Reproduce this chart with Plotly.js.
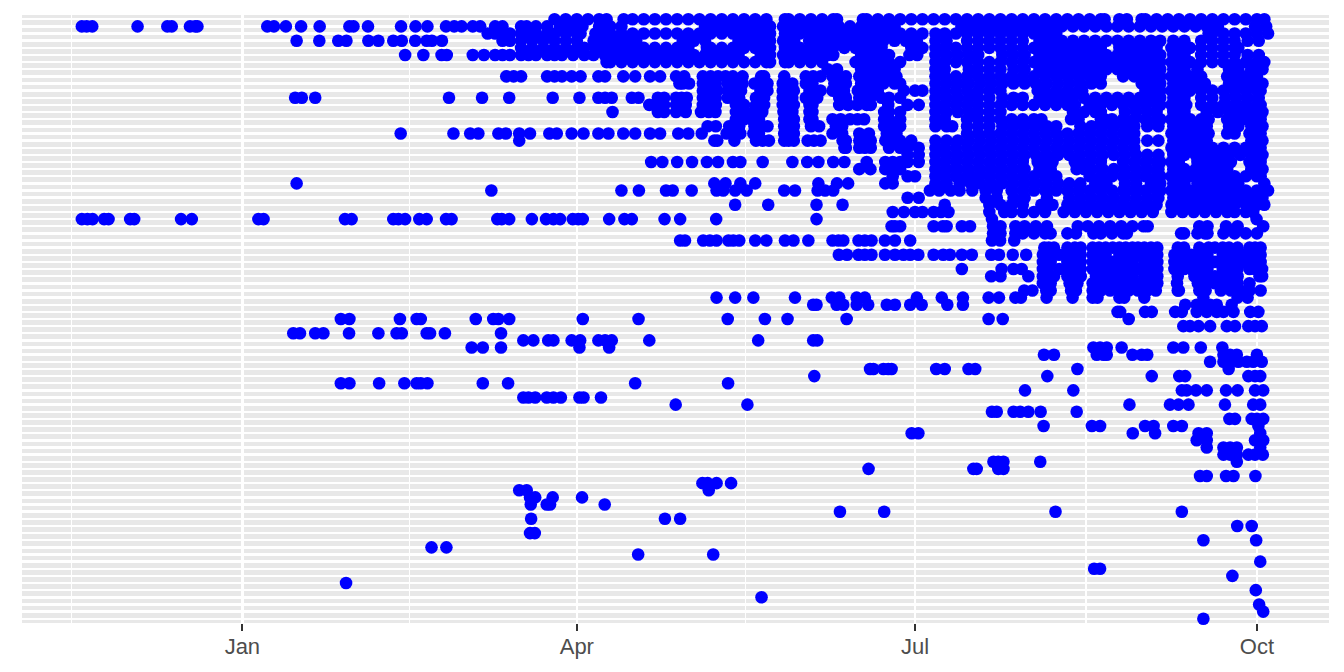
<!DOCTYPE html>
<html><head><meta charset="utf-8">
<script src="https://cdn.plot.ly/plotly-3.0.1.min.js"></script>
<style>html,body{margin:0;padding:0;background:#fff}#c{width:1344px;height:672px}</style>
</head><body><div id="c"></div>
<script>
// days since 1 January, one list per row (top row first)
const rowDays = [
/*0*/[84,87,90,93,96,98,102.6,105,108,111,114,117,120,123,126,129,132,135,138,141,146,147,150,153,156,159,160,167,168,171,174,177,180,183,186,189,192,195,198,201,204,207,210,213,216,219,222,225,228,231,232,236,238,242,243,246,249,252,255,258,261,264,267,270,273,275],
/*1*/[-43.2,-41.9,-40.4,-28.2,-20.2,-19,-14.1,-12.7,-12.1,6.7,8.5,11.7,15.8,20.8,28.8,29.9,33.8,42.7,46.6,49.8,54.8,57,59,62,64,68,70,75,76.5,79,82,85.5,88.5,91.5,96,97.5,99,102,124.5,127.5,130.5,133.5,136.5,139.5,142,145.5,148.5,151.5,154.5,157.5,160.5,163.5,166.5,169.5,172.5,175.5,193.5,196.5,199.5,202.5,205.5,208.5,211.5,214.5,217.5,220.5,223.5,226.5,229.5,232.5,235.5,238.5,241.5,244.5,247.5,250.5,253.5,256.5,259.5,262.5,272.5,275.5],
/*2*/[66,68,70,72,75,77,79,82,84,87,90,91,95,96,99,102,105,108,111,114,117,120,123,126,129,132,135,138,141,142,146,147,150,153,156,159,162,165,168,171,174,177,180,183,186.5,189,192,195,198,201,204,207,210,213,216,219,260,261,264,267,270,273,276],
/*3*/[14.6,20.7,25.8,28,33.9,36.6,40.6,42.9,46.5,49.6,51,53.7,70,72,75,78,81,84,87,90,94.5,97.5,100.5,103.5,106,118.5,121.5,124.5,133.5,136.5,139.5,142,145.5,148.5,152.5,154.5,157.5,160.5,163.5,166.5,169.5,172.5,175.5,178.5,181.5,186.5,189.5,195,198,201,204,207,210,214.5,217.5,220.5,223.5,226.5,229.5,232.5,235.5,238.5,241.5,244.5,247,250.5,253.5,258,261,264,267,270.5,273.5],
/*4*/[75,78,81,84,87,90,92,95,96,99,102,105,108,111,114,117,120,125,126,129,132,135,138,141,142,146,147,150,153,156,159,162,165,168,171,172,180,183,186.5,189,192,195,198,201,204,207,210,213,216,219,222,225,228,231,236,237,240,243,246,250,252,255,258,261,264,267,268],
/*5*/[43.8,48.7,53.6,55,62,65,68,70,72,75,77,79,82,84,86,89,92,94.5,97.5,100.5,103.5,106.5,109.5,112.5,115.5,118.5,121.5,124.5,127.5,130.5,133.5,139.5,142,145.5,148.5,151.5,154.5,157.5,159,166.5,169.5,172.5,174,179.5,181.6,186.5,189.5,192.5,195.5,198,204.5,207.5,210.5,214.5,217.5,220.5,223.5,226.5,229.5,232.5,235.5,238.5,241.5,244.5,247,250.5,253.5,258,261,264,267,270.5,273.5],
/*6*/[98,99,102,105,108,111,114,117,120,123,126,129,132,135,138,141,142,146,147,150,153,156,165,168,171,174,177,186.5,189,192,195,198,201,204,207,210,213,216,219,222,225,228,231,234,237,240,243,246,247,250,252,255,258,261,264,267,270,273,275],
/*7*/[157.5,160,166.5,169.5,172.5,175.5,186.5,189,195.5,198,201,204,207.5,210.5,214.5,217.5,220.5,223.5,226.5,229.5,232.5,235.5,238.5,241.5,244.5,247,250.5,253.5,257,265.5,268,271.5,274.5],
/*8*/[71,73,75,82,84,86,88.6,91,95.8,97.6,102.5,105.7,109.7,112.4,116.7,118.9,123.9,126,128,130,132,134.6,139.6,140.4,145.8,151.6,153.6,155.6,158.8,160.5,162.4,166,168,171,174,176,186.5,189,192,195,198,201,204,207,210,213,216,219,222,225,228,231,237,240,243,246,247,250,252,255,258,265,267,270,273],
/*9*/[117.6,118.5,120.2,123.9,125.6,127.4,130.6,132.5,134.6,137.8,139.5,141.3,145.4,146.5,148,151.6,153.4,159.3,161,162.4,166.5,169.5,172.5,175.5,177,186.5,189.5,192.5,195.5,198.5,201.5,204.5,207.5,210.5,213.5,216.5,219.5,222.5,225.5,228.5,231,242,244.5,247,250.5,253.5,256.5,259,265.5,268.5,271.5,274.5],
/*10*/[123.9,125.7,127.8,130.6,132.5,134.2,139.4,141.3,145.4,146.8,148.4,152.6,154,155.6,158.8,160.4,161.9,165.6,168,171,178,181,183,186.5,189,192,195,198,201,204,214,216,219,222,225,226,243,246,247,250,252,255,258,261,264,267,270,273,274],
/*11*/[14.2,16,19.6,55.6,64.5,71.8,83.5,90.7,95.8,97.6,99.4,104.8,106.6,111.8,113.5,116.7,118.2,119.6,123.9,125.6,127.4,130.6,132,133.7,138.2,140.4,145.4,146.8,148,151.6,153,154.7,160.6,162.4,166,169,172,174,177,186.5,189.5,192.5,195.5,198,201,204.5,207.5,210,214.5,217.5,220.5,223.5,226.5,229.5,232.5,235.5,238.5,241.5,244.5,247,250.5,253.5,258,261,264.5,267.5,270.5,273.5],
/*12*/[109.5,111.5,113.5,116.7,119.3,123.9,125.6,127.4,132.8,135,138.2,140.4,145.4,146.8,148.4,152.6,153.4,160.6,163,165.5,168,169.1,173.8,179,182,186.5,189,192,195,198,201,204,207,210,213,216,219,222,224,228,231,234,237,240,243,246,247,250,252,254,258,261,264,267,270,273,274],
/*13*/[99.6,111.8,113.5,116.7,119.3,123.4,125.5,127.3,132.8,135,137.5,139.9,145.6,148,152.6,153.4,172.7,174,177,186.5,189.5,192.5,195.5,198,201,204,223.5,226.5,229.5,231,237.5,240.5,243.5,246,250.5,253.5,259.5,262.5,265.5,268.5,271.5,274.5],
/*14*/[132.8,135,137,139,145.8,147,148.4,152.6,153.4,158.8,161,163.5,165.5,167.3,172.7,174,177,186.5,189,195,198,201,204,207,210,213,215,223,225,231,232,234,237,240,243,246,247,250,252,255,258,260,265,267,270,273,274],
/*15*/[125.2,127.4,131,133.7,137.8,139.5,141.3,145.8,147,148.4,153,155.2,159.7,161.4,172.7,175.5,177,186.5,189.5,191,195,198,201,204.5,207.5,210.5,213.5,216.5,219,225.5,228.5,231.5,234.5,237.5,240,243.5,246.5,250.5,253.5,256.5,259.5,265.5,268,271.5,274.5],
/*16*/[42.6,56.8,61.3,63.5,68.9,70.9,74.5,77.4,82.6,84.6,88.6,91.8,95.8,98.5,102.5,105.7,109.7,112.4,117.3,120,123.6,130.3,132.6,134,137.5,139,145.8,147,148.4,158.8,161.4,166,168.6,173.4,176,195,198,201,204,207,210,213,216,219,222,225,228,231,234,237,240,250,252,255,258,260,265,267,271,273,274],
/*17*/[74.5,127,127.8,132.4,138.2,140,141.7,145.8,147,148.4,152.1,153.8,155.6,161.5,162.4,166,167.5,169.1,173,175,177,180,186.5,189.5,192.5,195.5,198.5,201.5,204.5,207.5,210.5,213.5,216.5,219.5,222.5,225.5,228.5,231.5,234.5,237.5,240,243.5,246.5,250.5,253.5,256.5,259.5,271.5,274.5],
/*18*/[162,162.4,166,167.5,169.1,174,177,179,182,186.5,189,192,195,198,201,204,207,210,213,216,219,222,225,228,231,234,237,240,250,252,255,258,261,264,267,270,273,274],
/*19*/[179,182,186.5,189.5,192.5,195.5,198.5,201.5,204.5,207.5,210.5,213.5,216.5,219.5,222.5,225.5,228.5,231.5,234.5,237.5,240.5,243.5,246.5,250.5,253.5,256.5,259.5,262.5,265.5,268.5,271.5,274.5],
/*20*/[110,113,117,121,125,128,132,134,140,148,152,155,159,162,168,173,175,177,179,182,186.5,189,192,195,198,201,204,207,210,214,216,218,224,225,228,231,237,240,243,246,247,250,252,257,258,261,264,266,271,273,274],
/*21*/[166,169,173,175,177,186.5,189.5,192.5,195.5,198.5,201.5,204.5,207.5,210.5,214.5,217.5,224.5,226.5,228.5,231.5,234.5,237.5,240.5,243.5,246.5,250.5,253.5,256.5,259.5,262.5,265,271.5,274.5],
/*22*/[175,179,181,186.5,189,192,195,198,201,204,207,210,213,216,219,228,231,234,237,240,243,246,247,250,252,255,258,261,264,267,270,273,274],
/*23*/[14.6,127,130,134,138,155,160,163,173,175,186.5,189.5,193,196,198.5,201.5,204.5,207.5,210.5,213.5,216.5,219.5,222.5,225.5,229.5,232.5,237.5,240.5,244.5,247,250.5,253.5,257,259.5,262.5,265.5,268,275],
/*24*/[67,102,106.7,114,115.8,120.9,127.6,129.4,132.6,135.7,145.8,148.7,154.8,156.8,159,185,187.5,190.6,193,196.4,200,203,207,210,213,216,219,222,225,228,231,234,237,240,243,246,247,250,252,255,258,261,264,267,270,273,276],
/*25*/[179,182,200,203,207.5,210.5,216.5,222.5,225.5,228.5,231.5,234.5,237.5,240.5,243.5,246.5,250.5,253.5,256.5,259.5,262.5,265.5,268.5,271.5,274.5],
/*26*/[132.6,141.5,154.5,161.5,189,201,204,207,210,215,218,222,225,228,231,234,237,240,243,246,250,252,255,258,261,264,267,270,273,275],
/*27*/[175,178,181,183,186,188,190,201,205,207,210,213,216,221,224,227,230,233,236,239,242,245,250,253,256,259,262,265,267,270,272],
/*28*/[-43.2,-41.7,-40.3,-37.2,-36,-30.2,-29.1,-16.5,-13.6,4.3,5.7,27.6,29.4,40.6,42,43.8,47.6,49.6,54.8,56.3,68.6,69.8,71.8,77.9,81.7,83.7,85.5,88.9,90.4,91.6,98.7,102.8,104.8,113.6,117.8,127.5,154.5,201.7,272.9],
/*29*/[174.7,175.6,177,186,188.5,189.5,193.6,195.8,202,204,208,210.5,213.5,216.5,224.8,227.5,230.5,233.5,236.5,239.5,242.5,243.6,257.5,259.7,264.7,267.8,274.7],
/*30*/[202,204,208,210,213,216,217.5,222,224.3,229,231,234,237,238,252.6,253.4,257,259,259.7,264,267,270,273],
/*31*/[117.8,119.1,124,125.8,127.6,130.8,132.1,133.7,138,141,146,148.3,152.3,158.8,160.4,161.7,165.8,167.5,169.3,172.9,175.6,179.7,201.7,203.9,207.7],
/*32*/[215.8,217,218.4,222,224,225.6,228.8,230.5,232.3,234.2,236,237.7,239.5,241,242.7,244.5,246.2,251.7,253.4,257.5,260,261.7,263.8,265.5,267.8,271,272.5,274],
/*33*/[160.5,162.7,165.8,167.5,169.3,172.9,175.6,177.9,179.7,181.9,186,188.6,190.4,193.6,196.3,201.5,203.6,207.3,210.9,215.4,217.5,219.8,222,224,225.6,228.8,230.5,232.3,236,237.7,239.5,241,242.7,244.5,246.2,250.8,252,253.4,255.3,257.1,258.5,259.7,263.8,265.5,267.8,269.5,271,272.5,274],
/*34*/[215.4,217.5,222,224,225.6,228.8,230.5,232.3,234.2,236,237.7,239.5,242.7,244.5,246.2,250.8,252,253.4,255.3,257.1,258.5,259.7,261.7,263.8,265.5,267.8,269.5,271,272.5,274],
/*35*/[193.6,204.3,207.5,209.7,215.4,216.6,219.8,222.6,224,225.6,228.8,230.5,232,234.2,236,237.7,239.5,241,242.7,244.5,246.2,250.8,252,253.4,255.3,257.1,258.5,259.7,263.8,265.5,267.8,271,272.5,274.4],
/*36*/[201.5,204,211.5,215.4,218.4,222,224,225.6,229.7,231.9,234.2,236,237.7,239.5,242.7,244.5,246.2,251.7,256.2,258.5,260,261.7,263.8,265.5,267.8,273.7,274.4],
/*37*/[215.4,217.5,222.6,224.7,228.8,230.5,232.3,234.2,236,237.7,239.5,241,242.7,244.5,246.2,251.5,257.1,258.5,259.7,261.7,263.3,265.5,267.8,271],
/*38*/[210.4,212.6,216.3,217.5,223,224.3,228.8,231,233.5,236,238.5,241,243.5,245.8,251.7,252,257.5,259.2,263.3,266,268.5,271,274],
/*39*/[127.6,132.6,137.5,148.7,158.6,160.6,165.3,167.5,181.5,188.2,193.9,200.8,203.6,208,209.5,216.4,223.4,228.8,230.1,236,237.3,242.7,258.6,267.8,270.5],
/*40*/[153.6,154.5,159.9,161.7,165.3,168.4,173.4,175.6,179.7,182.8,189.7,193.9,253.7,256.8,258.6,260.4,262.2,266.2],
/*41*/[235.5,236.2,242.9,244.7,251,252.8,256.8,259.5,262.2,264,266.7,271.2,273.4],
/*42*/[26.5,28.8,42.4,46.9,48,62.8,67.5,68.9,71.8,91.6,106.6,130.6,140.6,146.7,162.6,200.8,204.6,238.5],
/*43*/[253.2,255,257.3,260.4,264.9,267.1,270.7,272.5,274.3],
/*44*/[13.7,15.5,19.6,21.8,28.7,36.6,41.5,42.9,49.6,50.5,54.5,69.6],
/*45*/[75.6,78.3,82.3,83.7,88.6,90.9,95.8,97.6,99.4,109.5,138.8,153.6,154.7],
/*46*/[61.7,64.7,69.6,90.7,98.7,229,230.8,232.6,236.6,250.5,253.2,257.9,263.7],
/*47*/[215.7,218.4,229.9,231.7,232.6,239.5,242,243.5,264,265.8,267.6,273],
/*48*/[260.4,264,265.8,268,270.3,272,274.3],
/*49*/[168.9,169.8,172.5,173.8,174.7,186.7,189,195.4,197.2,224.7,265.4],
/*50*/[153.9,216.6,244.7,252.1,253.7,270.7,272.5,273.9],
/*51*/[26.5,28.8,36.8,43.6,46.9,48,49.8,64.7,71.5,105.7,130.7],
/*52*/[210.6,223.6,252.8,254.1,256.6,259.5,264.7,267.8,272.5,274.7],
/*53*/[75.6,77,78.8,81.9,83.7,85.7,90.7,91.8,96.5],
/*54*/[116.6,135.9,238.7,249.6,251.9,254.6,264.4,272,273.9],
/*55*/[201.7,203,207.5,209.3,211.5,214.8,224.5],
/*56*/[265.6,267.1,271.6,273,274.7],
/*57*/[215.6,228.6,230.8,242.9,245.2,250.5,252.8,273.4],
/*58*/[180.1,181.9,239.6,245.6,257.3,259.5,273.9],
/*59*/[256.8,259.5,272.5,274.7],
/*60*/[259.5,264,265.8,267.6,273.9],
/*61*/[264,265.8,267.6,270.7,272.5,274.6],
/*62*/[202.1,203.4,204.8,214.7,267.6],
/*63*/[168.5,196.7,197.6,203.4,204.8],
/*64*/[257.7,259.5,264.7,266.7,272.6],
/*65*/[123.8,125.2,127.6,131.5],
/*66*/[74.5,76.5,125.5],
/*67*/[77.4,78.8,83.5,91.4],
/*68*/[77.6,81.9,82.8,97.5],
/*69*/[160.8,172.7,218.8,252.8],
/*70*/[77.7,113.7,117.8],
/*71*/[267.7,271.6],
/*72*/[77.4,78.7],
/*73*/[258.6,272.8],
/*74*/[50.9,54.9],
/*75*/[106.5,126.7],
/*76*/[273.9],
/*77*/[229.2,230.8],
/*78*/[266.4],
/*79*/[27.9],
/*80*/[272.7],
/*81*/[139.7],
/*82*/[273.6],
/*83*/[274.7],
/*84*/[258.6]
];
const monthTicks = [0, 90, 181, 273];
const monthLabels = ['Jan', 'Apr', 'Jul', 'Oct'];
const minorTicks = [-46, 45, 135.5, 227];
const rowIndex = rowDays.map((_, i) => i);

const xs = [], ys = [];
rowDays.forEach((days, i) => days.forEach(d => { xs.push(d); ys.push(i); }));

Plotly.newPlot('c', [{
  type: 'scatter', mode: 'markers', x: xs, y: ys, cliponaxis: false,
  marker: { color: '#0000FF', size: 12.6, line: { width: 0 } }, hoverinfo: 'skip'
}], {
  width: 1344, height: 672,
  margin: { l: 22, r: 15, t: 15, b: 49.4, pad: 0 },
  paper_bgcolor: '#FFFFFF', plot_bgcolor: '#E8E8E8', showlegend: false,
  font: { family: 'Liberation Sans, Arial, sans-serif' },
  xaxis: {
    range: [-59.3, 292.4], tickmode: 'array', tickvals: monthTicks, ticktext: monthLabels,
    showgrid: true, gridcolor: '#FFFFFF', gridwidth: 2.4, zeroline: false, showline: false,
    ticks: 'outside', ticklen: 7, tickwidth: 2, tickcolor: '#333333', ticklabelstandoff: -3,
    tickfont: { size: 22, color: '#4D4D4D' },
    minor: { tickmode: 'array', tickvals: minorTicks, showgrid: true, gridcolor: '#FFFFFF', gridwidth: 1.1, ticks: '' }
  },
  yaxis: {
    range: [84.6, -0.6], tickmode: 'array', tickvals: rowIndex, showticklabels: false,
    showgrid: true, gridcolor: '#FFFFFF', gridwidth: 2.4, zeroline: false, showline: false, ticks: ''
  }
}, { displayModeBar: false, staticPlot: true });
</script></body></html>
